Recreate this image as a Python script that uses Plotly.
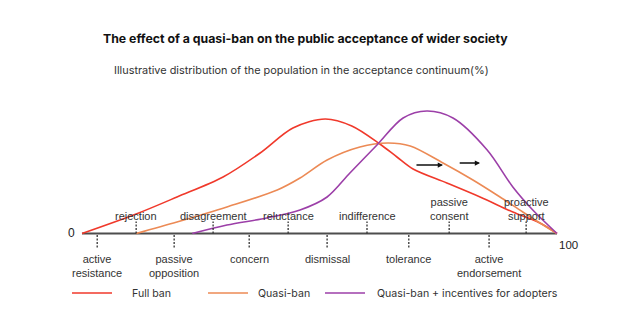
import plotly.graph_objects as go

# ---- data ----
series_names = ["Full ban", "Quasi-ban", "Quasi-ban + incentives for adopters"]
series_colors = ["#f0392b", "#ec8a55", "#9c3fa8"]

full_ban_x = [0, 11.4, 20.0, 29.7, 37.5, 44.4, 51.2, 56.8, 62.7, 66.3, 69.7, 76.8, 83.8, 90.7, 96.4, 100]
full_ban_y = [0, 3.9, 7.3, 11.3, 16.1, 21.1, 22.9, 21.5, 17.9, 15.3, 12.9, 10.1, 7.3, 4.3, 2.1, 0]

quasi_ban_x = [11.4, 20.0, 30.5, 41.1, 45.9, 51.6, 58.5, 64.4, 69.1, 76.0, 82.3, 88.0, 92.8, 96.4, 100]
quasi_ban_y = [0, 2.3, 5.3, 8.7, 11.1, 14.7, 17.3, 18.1, 17.5, 14.1, 10.7, 7.3, 4.3, 2.1, 0]

incentives_x = [23.2, 30.5, 38.9, 45.9, 51.6, 56.4, 62.1, 67.6, 72.6, 78.1, 85.3, 90.7, 94.9, 100]
incentives_y = [0, 1.7, 3.1, 4.7, 7.3, 12.1, 17.7, 23.1, 24.5, 23.1, 16.7, 9.3, 4.7, 0]

upper_tick_x = [11.4, 27.6, 43.4, 60.0, 77.3, 93.5]
upper_labels = ["rejection", "disagreement", "reluctance", "indifference", "passive<br>consent", "proactive<br>support"]
lower_tick_x = [3.2, 19.4, 35.2, 51.6, 68.8, 85.7]
lower_labels = ["active<br>resistance", "passive<br>opposition", "concern", "dismissal", "tolerance", "active<br>endorsement"]

arrow_starts = [70.1, 79.2]
arrow_ends = [76.0, 83.8]
arrow_y = [13.7, 14.1]

axis_min, axis_max = 0, 100

title = "The effect of a quasi-ban on the public acceptance of wider society"
subtitle = "Illustrative distribution of the population in the acceptance continuum(%)"

FONT = "Liberation Sans"
TFONT = "Inter"

fig = go.Figure()

for xs, ys, name, col in zip([full_ban_x, quasi_ban_x, incentives_x],
                             [full_ban_y, quasi_ban_y, incentives_y],
                             series_names, series_colors):
    fig.add_trace(go.Scatter(x=xs, y=ys, mode="lines", name=name,
                             line=dict(color=col, width=1.6, shape="spline", smoothing=0.9),
                             showlegend=False, hoverinfo="skip"))

shapes = []
annotations = []

# axis line
shapes.append(dict(type="line", xref="x", yref="y", x0=axis_min, x1=axis_max, y0=0, y1=0,
                   line=dict(color="#4d4d4d", width=1.8), layer="below"))

for tx, lab in zip(upper_tick_x, upper_labels):
    shapes.append(dict(type="line", xref="x", yref="y", x0=tx, x1=tx, y0=0, y1=2.4,
                       line=dict(color="#333333", width=1.3, dash="2px,1.5px")))
    annotations.append(dict(x=tx, y=2.4, xref="x", yref="y", text=lab, showarrow=False,
                            yanchor="bottom", xanchor="center", yshift=-2,
                            font=dict(family=FONT, size=11, color="#333333")))

for tx, lab in zip(lower_tick_x, lower_labels):
    shapes.append(dict(type="line", xref="x", yref="y", x0=tx, x1=tx, y0=-0.3, y1=-2.9,
                       line=dict(color="#333333", width=1.3, dash="2px,1.5px")))
    annotations.append(dict(x=tx, y=-3.5, xref="x", yref="y", text=lab, showarrow=False,
                            yanchor="top", xanchor="center",
                            font=dict(family=FONT, size=11, color="#333333")))

annotations.append(dict(x=axis_min, y=0, xref="x", yref="y", text="0", showarrow=False,
                        xanchor="right", yanchor="middle", xshift=-5, yshift=1,
                        font=dict(family=FONT, size=12, color="#222222")))
annotations.append(dict(x=axis_max, y=0, xref="x", yref="y", text="100", showarrow=False,
                        xanchor="left", yanchor="top", xshift=0, yshift=-3,
                        font=dict(family=FONT, size=11.5, color="#222222")))

for xs, xe, ay in zip(arrow_starts, arrow_ends, arrow_y):
    annotations.append(dict(x=xe, y=ay, ax=xs, ay=ay, xref="x", yref="y", axref="x", ayref="y",
                            text="", showarrow=True, arrowhead=2, arrowsize=0.75, arrowwidth=1.4,
                            arrowcolor="#111111"))

# title & subtitle
annotations.append(dict(x=0.482, y=1 - 38 / 327, xref="paper", yref="paper", text="<b>" + title + "</b>",
                        showarrow=False, xanchor="center", yanchor="middle",
                        font=dict(family=TFONT, size=12.3, color="#111111")))
annotations.append(dict(x=0.477, y=1 - 70 / 327, xref="paper", yref="paper", text=subtitle,
                        showarrow=False, xanchor="center", yanchor="middle",
                        font=dict(family=TFONT, size=10.9, color="#333333")))

# manual legend
leg_line_x0 = [72, 208, 325]
leg_text_x = [130, 256, 375]
leg_y = 1 - 293 / 327
for lx, tx, name, col in zip(leg_line_x0, leg_text_x, series_names, series_colors):
    shapes.append(dict(type="line", xref="paper", yref="paper", x0=lx / 633, x1=(lx + 40) / 633,
                       y0=leg_y, y1=leg_y, line=dict(color=col, width=1.6)))
    annotations.append(dict(x=tx / 633, y=leg_y, xref="paper", yref="paper", text=name, showarrow=False,
                            xanchor="left", yanchor="middle",
                            font=dict(family=TFONT, size=10.6, color="#333333")))

x_scale = 4.75  # px per unit
fig.update_layout(
    width=633, height=327,
    margin=dict(l=0, r=0, t=0, b=0),
    paper_bgcolor="white", plot_bgcolor="white",
    xaxis=dict(range=[-82 / x_scale, (633 - 82) / x_scale], visible=False, fixedrange=True),
    yaxis=dict(range=[(233.5 - 327) / 5, 233.5 / 5], visible=False, fixedrange=True),
    shapes=shapes, annotations=annotations,
)

fig.write_html("out.html")
